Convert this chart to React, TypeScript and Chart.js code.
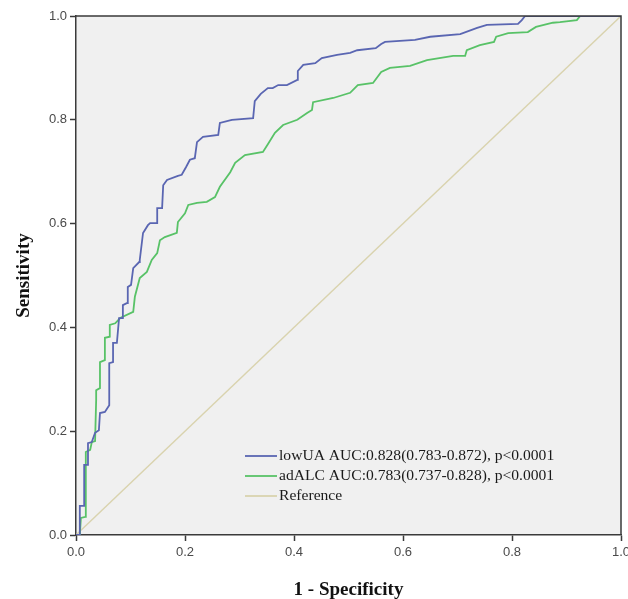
import React, { useEffect, useRef } from "react";
import { Chart, registerables } from "chart.js";

Chart.register(...registerables);

const seriesLabels = [
  "lowUA AUC:0.828(0.783-0.872), p<0.0001",
  "adALC AUC:0.783(0.737-0.828), p<0.0001",
  "Reference",
];

const lowUA_fpr = [
  0, 0.007, 0.007, 0.015, 0.015, 0.022, 0.022, 0.029, 0.035, 0.042, 0.044, 0.053, 0.061, 0.061,
  0.068, 0.068, 0.075, 0.079, 0.086, 0.086, 0.094, 0.095, 0.101, 0.105, 0.116, 0.117, 0.123,
  0.132, 0.136, 0.149, 0.149, 0.158, 0.16, 0.167, 0.187, 0.194, 0.202, 0.209, 0.218, 0.222,
  0.233, 0.261, 0.264, 0.286, 0.325, 0.328, 0.339, 0.352, 0.361, 0.371, 0.387, 0.406, 0.407,
  0.417, 0.439, 0.451, 0.479, 0.503, 0.516, 0.55, 0.56, 0.567, 0.622, 0.65, 0.705, 0.736,
  0.754, 0.811, 0.818, 0.824, 1,
];
const lowUA_tpr = [
  0, 0, 0.056, 0.056, 0.135, 0.135, 0.177, 0.179, 0.197, 0.202, 0.235, 0.237, 0.25, 0.331,
  0.333, 0.37, 0.37, 0.418, 0.418, 0.443, 0.447, 0.478, 0.482, 0.514, 0.526, 0.53, 0.582,
  0.597, 0.601, 0.601, 0.63, 0.63, 0.674, 0.684, 0.692, 0.694, 0.709, 0.723, 0.726, 0.757,
  0.767, 0.771, 0.794, 0.8, 0.803, 0.836, 0.85, 0.861, 0.861, 0.867, 0.867, 0.877, 0.894,
  0.906, 0.909, 0.919, 0.925, 0.929, 0.934, 0.938, 0.946, 0.95, 0.954, 0.96, 0.965, 0.977,
  0.983, 0.985, 0.992, 1, 1,
];

const adALC_fpr = [
  0, 0.007, 0.009, 0.017, 0.018, 0.026, 0.029, 0.035, 0.037, 0.037, 0.044, 0.044, 0.053, 0.053,
  0.062, 0.062, 0.072, 0.081, 0.105, 0.108, 0.117, 0.13, 0.139, 0.149, 0.154, 0.163, 0.185,
  0.187, 0.2, 0.206, 0.222, 0.24, 0.255, 0.264, 0.283, 0.292, 0.31, 0.343, 0.352, 0.365, 0.38,
  0.406, 0.424, 0.433, 0.435, 0.472, 0.503, 0.517, 0.545, 0.56, 0.576, 0.613, 0.644, 0.692,
  0.714, 0.717, 0.741, 0.767, 0.771, 0.793, 0.829, 0.844, 0.875, 0.888, 0.919, 0.925, 1,
];
const adALC_tpr = [
  0, 0, 0.033, 0.035, 0.16, 0.164, 0.179, 0.181, 0.26, 0.279, 0.283, 0.333, 0.337, 0.38,
  0.382, 0.405, 0.408, 0.418, 0.43, 0.459, 0.495, 0.507, 0.53, 0.543, 0.568, 0.574, 0.582,
  0.603, 0.62, 0.636, 0.64, 0.642, 0.651, 0.671, 0.699, 0.717, 0.732, 0.738, 0.753, 0.775,
  0.79, 0.8, 0.813, 0.819, 0.834, 0.842, 0.852, 0.867, 0.871, 0.892, 0.9, 0.904, 0.915, 0.923,
  0.923, 0.934, 0.944, 0.95, 0.96, 0.967, 0.969, 0.979, 0.987, 0.988, 0.992, 1, 1,
];

const ref_fpr = [0, 1];
const ref_tpr = [0, 1];

const axisTicks = [0, 0.2, 0.4, 0.6, 0.8, 1.0];

const colors = ["#5a66b2", "#58c267", "#d9d3ae"];

const toPoints = (xs: number[], ys: number[]) => xs.map((x, i) => ({ x, y: ys[i] }));

const bgPlugin = {
  id: "plotBg",
  beforeDraw(chart: any) {
    const { ctx, chartArea } = chart;
    ctx.save();
    ctx.fillStyle = "#f0f0f0";
    ctx.fillRect(chartArea.left, chartArea.top, chartArea.right - chartArea.left, chartArea.bottom - chartArea.top);
    ctx.restore();
  },
  afterDraw(chart: any) {
    const { ctx, chartArea } = chart;
    ctx.save();
    ctx.strokeStyle = "#3a3a3a";
    ctx.lineWidth = 1.5;
    ctx.beginPath();
    ctx.moveTo(chartArea.left, chartArea.top);
    ctx.lineTo(chartArea.right, chartArea.top);
    ctx.lineTo(chartArea.right, chartArea.bottom);
    ctx.stroke();
    // legend
    const lx = chartArea.left + 169;
    const ly = chartArea.bottom - 79;
    ctx.font = "15.6px 'Liberation Serif', 'Times New Roman', serif";
    ctx.textBaseline = "middle";
    ctx.fillStyle = "#1a1a1a";
    chart.data.datasets.forEach((ds: any, i: number) => {
      const y = ly + i * 20;
      ctx.strokeStyle = ds.borderColor;
      ctx.lineWidth = 1.8;
      ctx.beginPath();
      ctx.moveTo(lx, y);
      ctx.lineTo(lx + 32, y);
      ctx.stroke();
      ctx.fillText(ds.label, lx + 34, y);
    });
    ctx.restore();
  },
};

export default function App() {
  const ref = useRef<HTMLCanvasElement | null>(null);
  useEffect(() => {
    document.body.style.margin = "0";
    if (!ref.current) return;
    const tickFont = { family: "'Liberation Sans', Arial, sans-serif", size: 13 };
    const titleFont = { family: "'Liberation Serif', 'Times New Roman', serif", size: 19, weight: "bold" as const };
    const chart = new Chart(ref.current, {
      type: "line",
      data: {
        datasets: [
          { label: seriesLabels[0], data: toPoints(lowUA_fpr, lowUA_tpr), borderColor: colors[0], borderWidth: 1.8, pointRadius: 0, tension: 0 },
          { label: seriesLabels[1], data: toPoints(adALC_fpr, adALC_tpr), borderColor: colors[1], borderWidth: 1.8, pointRadius: 0, tension: 0 },
          { label: seriesLabels[2], data: toPoints(ref_fpr, ref_tpr), borderColor: colors[2], borderWidth: 1.4, pointRadius: 0, tension: 0 },
        ],
      },
      options: {
        animation: false,
        responsive: false,
        layout: { padding: { top: 16, right: 7, left: 0, bottom: 0 } },
        plugins: { legend: { display: false }, tooltip: { enabled: false } },
        scales: {
          x: {
            type: "linear",
            min: 0,
            max: 1,
            afterBuildTicks: (s: any) => { s.ticks = axisTicks.map((v) => ({ value: v })); },
            afterFit: (s: any) => { s.height = 64; s.paddingRight = 0; s.paddingLeft = 0; },
            ticks: { color: "#4a4a4a", font: tickFont, padding: 4, callback: (v: any) => Number(v).toFixed(1) },
            grid: { drawOnChartArea: false, drawTicks: true, tickLength: 6, tickColor: "#3a3a3a", tickWidth: 1.5 },
            border: { display: true, color: "#3a3a3a", width: 1.5 },
            title: { display: true, text: "1 - Specificity", color: "#111", font: titleFont, padding: { top: 0, bottom: -2 } },
          },
          y: {
            type: "linear",
            min: 0,
            max: 1,
            afterBuildTicks: (s: any) => { s.ticks = axisTicks.map((v) => ({ value: v })); },
            afterFit: (s: any) => { s.width = 76; s.paddingTop = 0; s.paddingBottom = 0; },
            ticks: { color: "#4a4a4a", font: tickFont, padding: 3, callback: (v: any) => Number(v).toFixed(1) },
            grid: { drawOnChartArea: false, drawTicks: true, tickLength: 6, tickColor: "#3a3a3a", tickWidth: 1.5 },
            border: { display: true, color: "#3a3a3a", width: 1.5 },
            title: { display: true, text: "Sensitivity", color: "#111", font: titleFont, padding: { top: 13, bottom: 0 } },
          },
        },
      },
      plugins: [bgPlugin],
    });
    return () => chart.destroy();
  }, []);
  return (
    <div style={{ width: 628, height: 599, background: "#fff" }}>
      <canvas ref={ref} width={628} height={599} style={{ display: "block" }} />
    </div>
  );
}
